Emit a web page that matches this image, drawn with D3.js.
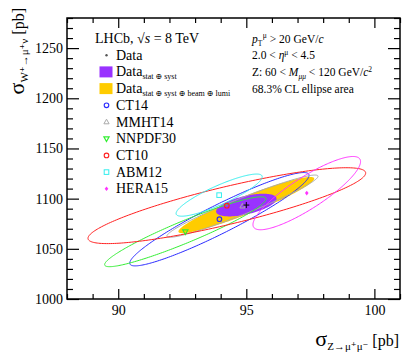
<!DOCTYPE html>
<html><head><meta charset="utf-8">
<script src="https://cdn.jsdelivr.net/npm/d3@7"></script>
<style>
body{margin:0;background:#fff;}
text{font-family:"Liberation Serif","DejaVu Serif",serif;}
</style></head>
<body><svg id="c" width="407" height="354"></svg>
<script>
// ---- data ----
const dataZ = 95.0, dataW = 1093.6;
const statHalfZ = 1.18, statHalfW = 11.3, statRho = 0.56;
const totHalfZ = 2.65, totHalfW = 28, totRho = 0.94;
const models = ["CT14","MMHT14","NNPDF30","CT10","ABM12","HERA15"];
const modelZ = [93.95, 94.85, 92.62, 94.24, 93.94, 97.36];
const modelW = [1079.5, 1092.5, 1067.0, 1093.0, 1103.5, 1105.5];
const modelHalfZ = [3.5, 2.95, 3.15, 5.42, 1.68, 2.1];
const modelHalfW = [46.5, 31, 34.8, 37.8, 21, 36.5];
const modelRho = [0.94, 0.96, 0.94, 0.86, 0.87, 0.86];
const modelColor = ["#2a2aff","#aaaaaa","#33ee33","#ff2020","#33eeee","#ff33ff"];
const modelMarker = ["circle","triangle","invtriangle","circle","square","diamond"];
const xMajor = [90, 95, 100];
const yMajor = [1000, 1050, 1100, 1150, 1200, 1250];

// ---- layout ----
const svg = d3.select("#c");
const L = 67, R = 400, T = 18, B = 299;
const x = d3.scaleLinear().domain([88, 101]).range([L, R]);
const y = d3.scaleLinear().domain([1000, 1280]).range([B, T]);
const xMinor = d3.range(88, 101.01, 1).filter(v => !xMajor.includes(v));
const yMinor = d3.range(1000, 1280.1, 10).filter(v => !yMajor.includes(v));

function ellipsePath(cx, cy, hx, hy, rho) {
  const ts = d3.range(0, 2 * Math.PI, Math.PI / 120);
  const s = Math.sqrt(1 - rho * rho);
  const pts = ts.map(t => [x(cx + hx * Math.cos(t)), y(cy + hy * (rho * Math.cos(t) + s * Math.sin(t)))]);
  return d3.line().curve(d3.curveLinearClosed)(pts);
}

const plot = svg.append("g");
plot.append("path").attr("d", ellipsePath(dataZ, dataW, totHalfZ, totHalfW, totRho)).attr("fill", "#ffcc00");
plot.append("path").attr("d", ellipsePath(dataZ, dataW, statHalfZ, statHalfW, statRho)).attr("fill", "#9933ff");
models.forEach((m, i) => {
  plot.append("path").attr("d", ellipsePath(modelZ[i], modelW[i], modelHalfZ[i], modelHalfW[i], modelRho[i]))
    .attr("fill", "none").attr("stroke", modelColor[i]).attr("stroke-width", 1);
});

function marker(g, type, cx, cy, color) {
  if (type === "circle") g.append("circle").attr("cx", cx).attr("cy", cy).attr("r", 2.3).attr("fill", "none").attr("stroke", color).attr("stroke-width", 1.1);
  else if (type === "triangle") g.append("path").attr("d", `M${cx},${cy-2.8}L${cx+2.6},${cy+1.8}L${cx-2.6},${cy+1.8}Z`).attr("fill", "none").attr("stroke", color).attr("stroke-width", 1);
  else if (type === "invtriangle") g.append("path").attr("d", `M${cx},${cy+2.8}L${cx+2.6},${cy-1.8}L${cx-2.6},${cy-1.8}Z`).attr("fill", "none").attr("stroke", color).attr("stroke-width", 1.2);
  else if (type === "square") g.append("rect").attr("x", cx-2.3).attr("y", cy-2.3).attr("width", 4.6).attr("height", 4.6).attr("fill", "none").attr("stroke", color).attr("stroke-width", 1);
  else if (type === "diamond") g.append("path").attr("d", `M${cx},${cy-2.3}L${cx+1.8},${cy}L${cx},${cy+2.3}L${cx-1.8},${cy}Z`).attr("fill", color);
}
models.forEach((m, i) => marker(plot, modelMarker[i], x(modelZ[i]), y(modelW[i]), modelColor[i]));
// data cross
plot.append("path").attr("d", `M${x(dataZ)-3},${y(dataW)}h6M${x(dataZ)},${y(dataW)-3}v6`).attr("stroke", "#000").attr("stroke-width", 1);

// ---- axes ----
function styleAxis(g) { g.select(".domain").remove(); g.selectAll("line").attr("stroke", "#000").attr("stroke-width", 1.2); }
const fmt = d3.format("d");
svg.append("g").attr("transform", `translate(0,${B})`).call(d3.axisBottom(x).tickValues(xMajor).tickSize(-10).tickPadding(6).tickFormat(fmt)).call(styleAxis)
  .selectAll("text").attr("font-size", 14).attr("font-family", "Liberation Serif").attr("fill", "#000");
svg.append("g").attr("transform", `translate(0,${B})`).call(d3.axisBottom(x).tickValues(xMinor).tickSize(-5).tickFormat("")).call(styleAxis);
svg.append("g").attr("transform", `translate(0,${T})`).call(d3.axisTop(x).tickValues(xMajor).tickSize(-10).tickFormat("")).call(styleAxis);
svg.append("g").attr("transform", `translate(0,${T})`).call(d3.axisTop(x).tickValues(xMinor).tickSize(-5).tickFormat("")).call(styleAxis);
svg.append("g").attr("transform", `translate(${L},0)`).call(d3.axisLeft(y).tickValues(yMajor).tickSize(-12).tickPadding(4).tickFormat(fmt)).call(styleAxis)
  .selectAll("text").attr("font-size", 14).attr("font-family", "Liberation Serif").attr("fill", "#000");
svg.append("g").attr("transform", `translate(${L},0)`).call(d3.axisLeft(y).tickValues(yMinor).tickSize(-6).tickFormat("")).call(styleAxis);
svg.append("g").attr("transform", `translate(${R},0)`).call(d3.axisRight(y).tickValues(yMajor).tickSize(-12).tickFormat("")).call(styleAxis);
svg.append("g").attr("transform", `translate(${R},0)`).call(d3.axisRight(y).tickValues(yMinor).tickSize(-6).tickFormat("")).call(styleAxis);
svg.append("rect").attr("x", L).attr("y", T).attr("width", R - L).attr("height", B - T).attr("fill", "none").attr("stroke", "#000").attr("stroke-width", 1.5);

// axis titles
const xl = svg.append("text").attr("x", 399).attr("y", 346).attr("text-anchor", "end").attr("fill", "#000");
xl.append("tspan").attr("font-size", 22).text("σ");
xl.append("tspan").attr("font-size", 11).attr("dy", 4).text("Z→μ⁺μ⁻");
xl.append("tspan").attr("font-size", 16).attr("dy", -4).text(" [pb]");
const yl = svg.append("text").attr("transform", "translate(24,8) rotate(-90)").attr("text-anchor", "end").attr("fill", "#000");
yl.append("tspan").attr("font-size", 22).text("σ");
yl.append("tspan").attr("font-size", 11).attr("dy", 4).text("W⁺→μ⁺ν");
yl.append("tspan").attr("font-size", 16).attr("dy", -4).text(" [pb]");

// ---- legend ----
const lg = svg.append("g");
const row = i => 38.5 + i * 16.7;
const mx = 106.5, tx = 116, fs = 14;
const t0 = lg.append("text").attr("x", 95).attr("y", row(0) + 4.5).attr("font-size", fs);
t0.append("tspan").text("LHCb,  √");
t0.append("tspan").attr("font-style", "italic").text("s");
t0.append("tspan").text(" = 8 TeV");
lg.append("circle").attr("cx", mx).attr("cy", row(1)).attr("r", 1.2).attr("fill", "#555");
lg.append("text").attr("x", tx).attr("y", row(1) + 4.5).attr("font-size", fs).text("Data");
lg.append("rect").attr("x", 99.5).attr("y", row(2) - 5.5).attr("width", 13).attr("height", 11).attr("fill", "#9933ff");
const t2 = lg.append("text").attr("x", tx).attr("y", row(2) + 4.5).attr("font-size", fs);
t2.append("tspan").text("Data");
t2.append("tspan").attr("font-size", 8).attr("dy", 3).text("stat ⊕ syst");
lg.append("rect").attr("x", 99.5).attr("y", row(3) - 5.5).attr("width", 13).attr("height", 11).attr("fill", "#ffcc00");
const t3 = lg.append("text").attr("x", tx).attr("y", row(3) + 4.5).attr("font-size", fs);
t3.append("tspan").text("Data");
t3.append("tspan").attr("font-size", 8).attr("dy", 3).text("stat ⊕ syst ⊕ beam ⊕ lumi");
models.forEach((m, i) => {
  marker(lg, modelMarker[i], mx, row(4 + i), modelColor[i]);
  lg.append("text").attr("x", tx).attr("y", row(4 + i) + 4.5).attr("font-size", fs).text(m);
});

// right column
const rx = 252, rfs = 11.5;
const r0 = lg.append("text").attr("x", rx).attr("y", row(0) + 4).attr("font-size", rfs);
r0.append("tspan").attr("font-style", "italic").text("p");
r0.append("tspan").attr("font-size", 7.5).attr("dy", 3).text("T");
r0.append("tspan").attr("font-size", 7.5).attr("dy", -8).attr("dx", 0.5).text("μ");
r0.append("tspan").attr("dy", 5).text(" > 20 GeV/");
r0.append("tspan").attr("font-style", "italic").text("c");
const r1 = lg.append("text").attr("x", rx).attr("y", row(1) + 4).attr("font-size", rfs);
r1.append("tspan").text("2.0 < ");
r1.append("tspan").attr("font-style", "italic").text("η");
r1.append("tspan").attr("font-size", 7.5).attr("dy", -4).text("μ");
r1.append("tspan").attr("dy", 4).text(" < 4.5");
const r2 = lg.append("text").attr("x", rx).attr("y", row(2) + 4).attr("font-size", rfs);
r2.append("tspan").text("Z: 60 < ");
r2.append("tspan").attr("font-style", "italic").text("M");
r2.append("tspan").attr("font-size", 7.5).attr("font-style", "italic").attr("dy", 3).text("μμ");
r2.append("tspan").attr("dy", -3).text(" < 120 GeV/");
r2.append("tspan").attr("font-style", "italic").text("c");
r2.append("tspan").attr("font-size", 7.5).attr("dy", -4).text("2");
lg.append("text").attr("x", rx).attr("y", row(3) + 4).attr("font-size", rfs).text("68.3% CL ellipse area");
</script></body></html>
